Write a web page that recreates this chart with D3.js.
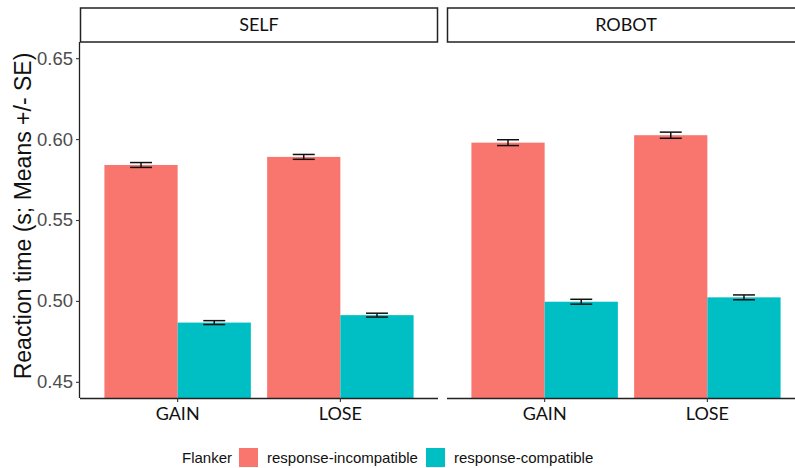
<!DOCTYPE html>
<html>
<head>
<meta charset="utf-8">
<script src="https://cdn.jsdelivr.net/npm/d3@7"></script>
<style>
  html, body { margin: 0; padding: 0; background: #fff; }
  svg { display: block; }
</style>
</head>
<body>
<svg id="chart" width="795" height="468"></svg>
<script>
// Facets, conditions and flanker types
const panels = ["SELF", "ROBOT"];
const conditions = ["GAIN", "LOSE"];
const flankers = ["response-incompatible", "response-compatible"];

// Mean reaction times (s), ordered by condition [GAIN, LOSE]
const selfIncompatible = [0.584, 0.589];
const selfCompatible = [0.4866, 0.4912];
const robotIncompatible = [0.5978, 0.6024];
const robotCompatible = [0.4995, 0.5022];

// Standard errors, same order
const selfIncompatibleSE = [0.0015, 0.0015];
const selfCompatibleSE = [0.0012, 0.0012];
const robotIncompatibleSE = [0.0018, 0.0019];
const robotCompatibleSE = [0.0015, 0.0015];

const yTicks = [0.45, 0.50, 0.55, 0.60, 0.65];
const flankerColors = ["#F8766D", "#00BFC4"];

// Long-format table built from the arrays above
const seriesByPanel = {
  SELF: [[selfIncompatible, selfIncompatibleSE], [selfCompatible, selfCompatibleSE]],
  ROBOT: [[robotIncompatible, robotIncompatibleSE], [robotCompatible, robotCompatibleSE]]
};
const rows = [];
panels.forEach(p => {
  flankers.forEach((f, fi) => {
    const [m, se] = seriesByPanel[p][fi];
    conditions.forEach((c, ci) => rows.push({ panel: p, flanker: f, condition: c, mean: m[ci], se: se[ci] }));
  });
});

const svg = d3.select("#chart");

// Panel geometry
const panelTop = 42, panelBottom = 398, stripTop = 8;
const panelW = 358, firstLeft = 80, panelGap = 9;

const y = d3.scaleLinear().domain([0.44, 0.66]).range([panelBottom, panelTop]);
const color = d3.scaleOrdinal().domain(flankers).range(flankerColors);

panels.forEach((p, pi) => {
  const x0 = firstLeft + pi * (panelW + panelGap);
  const g = svg.append("g");

  const x = d3.scaleBand().domain(conditions).range([x0, x0 + panelW])
    .paddingInner(0.1).paddingOuter(0.15);
  const xSub = d3.scaleBand().domain(flankers).range([0, x.bandwidth()]);

  const data = rows.filter(r => r.panel === p);

  // Bars
  g.selectAll("rect.bar").data(data).join("rect")
    .attr("class", "bar")
    .attr("x", d => x(d.condition) + xSub(d.flanker))
    .attr("width", xSub.bandwidth())
    .attr("y", d => y(d.mean))
    .attr("height", d => y(0.44) - y(d.mean))
    .attr("fill", d => color(d.flanker));

  // Error bars (mean +/- SE)
  const capW = xSub.bandwidth() * 0.3;
  const eb = g.selectAll("g.eb").data(data).join("g").attr("class", "eb")
    .attr("stroke", "#111").attr("stroke-width", 1.5).attr("fill", "none");
  eb.append("line")
    .attr("x1", d => x(d.condition) + xSub(d.flanker) + xSub.bandwidth() / 2)
    .attr("x2", d => x(d.condition) + xSub(d.flanker) + xSub.bandwidth() / 2)
    .attr("y1", d => y(d.mean - d.se)).attr("y2", d => y(d.mean + d.se));
  [1, -1].forEach(s => {
    eb.append("line")
      .attr("x1", d => x(d.condition) + xSub(d.flanker) + xSub.bandwidth() / 2 - capW / 2)
      .attr("x2", d => x(d.condition) + xSub(d.flanker) + xSub.bandwidth() / 2 + capW / 2)
      .attr("y1", d => y(d.mean + s * d.se)).attr("y2", d => y(d.mean + s * d.se));
  });

  // Bottom axis
  const xAxis = g.append("g").attr("transform", `translate(0,${panelBottom})`)
    .call(d3.axisBottom(x).tickSize(4).tickSizeOuter(0));
  xAxis.select(".domain").attr("stroke", "#222").attr("stroke-width", 1.3)
    .attr("d", `M${x0},0.5H${x0 + panelW}`);
  xAxis.selectAll(".tick line").attr("stroke", "#333").attr("stroke-width", 1.1);
  xAxis.selectAll(".tick text")
    .attr("y", 9).attr("dy", "0.71em")
    .attr("font-family", "Lato, 'Open Sans', sans-serif")
    .attr("font-size", 18).attr("fill", "#111");

  // Left axis on the first facet only
  if (pi === 0) {
    const yAxis = g.append("g").attr("transform", `translate(${x0},0)`)
      .call(d3.axisLeft(y).tickValues(yTicks).tickFormat(d3.format(".2f")).tickSize(4).tickSizeOuter(0));
    yAxis.select(".domain").attr("stroke", "#222").attr("stroke-width", 1.3)
      .attr("d", `M-0.5,${panelTop}V${panelBottom}`);
    yAxis.selectAll(".tick line").attr("stroke", "#333").attr("stroke-width", 1.1);
    yAxis.selectAll(".tick text")
      .attr("x", -7)
      .attr("font-family", "'Liberation Sans', Arial, sans-serif")
      .attr("font-size", 18.5).attr("fill", "#4d4d4d");
  }

  // Facet strip
  g.append("rect")
    .attr("x", x0 + 0.5).attr("y", stripTop)
    .attr("width", panelW - 1).attr("height", panelTop - stripTop)
    .attr("fill", "#fff").attr("stroke", "#222").attr("stroke-width", 1.5);
  g.append("text")
    .attr("x", x0 + panelW / 2).attr("y", (stripTop + panelTop) / 2)
    .attr("dy", "0.36em").attr("text-anchor", "middle")
    .attr("font-family", "Lato, 'Open Sans', sans-serif")
    .attr("font-size", 18).attr("fill", "#111")
    .text(p);
});

// Y axis title
svg.append("text")
  .attr("transform", `translate(23,${(panelTop + panelBottom) / 2 - 4}) rotate(-90)`)
  .attr("text-anchor", "middle").attr("dy", "0.35em")
  .attr("font-family", "'Liberation Sans', Arial, sans-serif")
  .attr("font-size", 23).attr("fill", "#111")
  .text("Reaction time (s; Means +/- SE)");

// Legend
const legend = svg.append("g").attr("font-family", "'Liberation Sans', Arial, sans-serif").attr("font-size", 15);
const legendY = 458;
legend.append("text").attr("x", 182).attr("y", legendY).attr("dy", "0.35em").attr("fill", "#111").text("Flanker");
const keyX = [239, 426];
flankers.forEach((f, i) => {
  legend.append("rect").attr("x", keyX[i]).attr("y", legendY - 10)
    .attr("width", 19).attr("height", 19).attr("fill", color(f));
  legend.append("text").attr("x", keyX[i] + 28).attr("y", legendY).attr("dy", "0.35em")
    .attr("fill", "#111").text(f);
});
</script>
</body>
</html>
